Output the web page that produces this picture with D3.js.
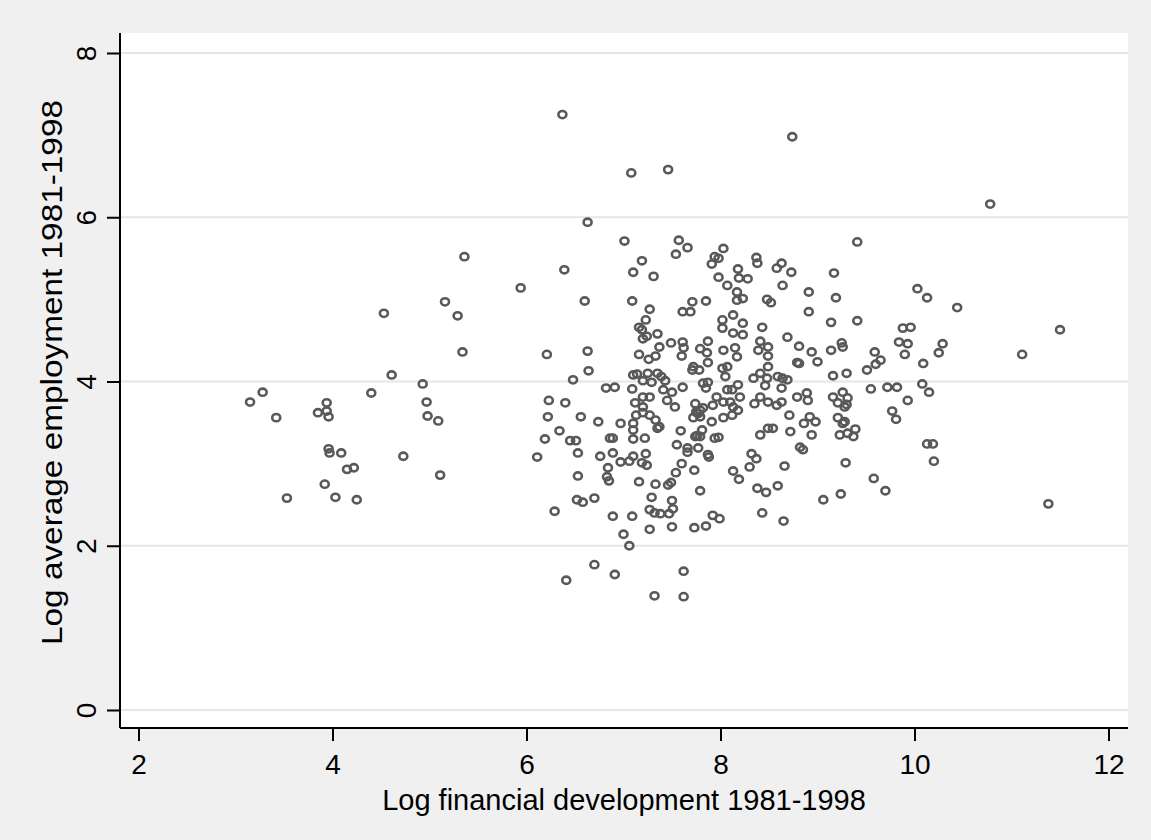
<!DOCTYPE html>
<html>
<head>
<meta charset="utf-8">
<script src="https://cdn.jsdelivr.net/npm/d3@7"></script>
<style>
  body { margin: 0; background: #f0f0f0; }
  text { font-family: "Liberation Sans", Arial, sans-serif; fill: #000; }
</style>
</head>
<body>
<script>
// log financial development (x) and log average employment (y)
const finDev = [
  3.15,3.28,3.42,3.53,3.85,3.94,3.94,3.96,3.96,3.97,4.09,3.92,4.03,4.15,4.22,4.25,4.40,4.61,4.73,4.93,
  4.97,4.98,5.09,5.11,4.53,5.16,5.29,5.34,5.36,5.94,
  6.37,6.63,6.39,6.60,6.21,6.63,6.64,6.48,6.82,6.23,6.40,6.22,6.56,6.74,6.34,6.19,6.45,6.51,6.53,6.11,
  6.76,6.86,6.53,6.83,6.52,6.58,6.70,6.29,6.70,6.41,
  6.89,7.09,7.00,7.06,6.91,7.62,7.32,7.62,7.27,7.50,7.73,7.85,7.92,7.99,8.43,8.65,7.27,7.32,7.38,7.47,
  7.51,7.50,7.29,7.33,7.46,7.49,7.54,7.60,7.73,7.79,7.16,6.84,6.85,6.97,7.06,7.10,7.19,7.24,7.23,6.89,
  7.88,8.13,8.19,8.30,8.37,8.32,8.38,8.47,8.59,8.66,9.06,9.24,9.29,8.85,7.66,
  7.10,7.19,7.31,7.54,7.09,7.27,7.23,7.16,7.19,7.24,7.20,7.35,7.37,7.49,7.33,7.26,7.16,7.10,7.14,7.25,
  7.35,7.39,7.20,7.29,7.43,6.91,7.09,7.20,7.27,7.41,7.50,7.61,7.45,7.53,7.12,7.20,7.13,7.20,7.27,7.33,
  7.37,6.97,7.10,7.10,7.59,6.89,7.10,7.22,7.35,7.61,7.62,7.60,7.79,7.87,7.86,7.87,7.72,7.71,7.78,7.82,
  7.87,7.85,7.74,7.76,7.79,7.82,7.79,7.72,7.92,7.96,8.03,8.07,8.12,8.18,8.20,8.10,8.13,8.18,8.12,8.03,
  7.91,7.81,7.98,7.94,7.76,7.55,8.02,8.07,8.05,8.03,8.15,8.17,8.02,8.02,8.13,8.23,8.23,8.13,8.17,8.23,
  8.17,8.07,7.98,7.91,7.98,8.18,8.28,8.19,8.38,8.58,8.63,8.73,8.64,8.48,8.52,8.91,8.91,9.17,9.19,9.14,
  8.43,8.41,8.39,8.49,8.49,8.49,8.69,8.81,8.79,8.81,8.94,9.00,9.14,9.25,9.26,9.16,9.30,8.34,8.41,8.48,
  8.59,8.64,8.69,8.63,8.46,8.41,8.49,8.35,8.58,8.63,8.79,8.89,8.90,9.16,9.21,9.28,8.71,8.86,8.92,8.98,
  9.21,9.26,8.72,8.49,8.54,8.41,8.94,9.23,8.82,
  10.78,9.41,10.03,10.13,10.44,9.41,9.88,9.96,9.84,9.93,9.90,10.29,10.25,11.11,9.59,9.65,9.60,9.51,10.09,9.55,
  9.72,9.82,10.08,10.15,9.93,9.77,9.81,10.13,10.19,10.20,9.58,9.70,9.26,9.31,9.30,9.28,9.39,9.37,9.31,11.50,
  11.38,
  7.08,7.46,8.74,7.01,7.57,7.66,8.03,7.94,8.37,
  7.74,7.79,7.66,7.77,7.87,7.75,7.77,7.61,7.69,7.71,7.85
];
const logEmp = [
  3.75,3.87,3.56,2.58,3.62,3.74,3.64,3.57,3.18,3.13,3.13,2.75,2.59,2.93,2.95,2.56,3.86,4.08,3.09,3.97,
  3.75,3.58,3.52,2.86,4.83,4.97,4.80,4.36,5.52,5.14,
  7.25,5.94,5.36,4.98,4.33,4.37,4.13,4.02,3.92,3.77,3.74,3.57,3.57,3.51,3.40,3.30,3.28,3.28,3.13,3.08,
  3.09,3.31,2.85,2.84,2.56,2.53,2.58,2.42,1.77,1.58,
  2.36,2.36,2.14,2.00,1.65,1.69,1.39,1.38,2.20,2.23,2.22,2.24,2.37,2.33,2.40,2.30,2.44,2.40,2.39,2.39,
  2.45,2.55,2.59,2.75,2.74,2.77,2.89,3.00,2.92,2.67,2.78,2.95,2.79,3.02,3.03,3.09,3.01,2.98,3.12,3.13,
  3.08,2.91,2.81,2.96,3.06,3.12,2.70,2.65,2.73,2.97,2.56,2.63,3.01,3.17,3.14,
  5.33,5.47,5.28,5.55,4.98,4.88,4.75,4.66,4.63,4.55,4.52,4.58,4.42,4.47,4.31,4.27,4.33,4.08,4.09,4.10,
  4.10,4.06,4.01,3.99,4.01,3.93,3.91,3.81,3.81,3.90,3.87,3.93,3.77,3.69,3.74,3.69,3.59,3.62,3.59,3.53,
  3.45,3.49,3.49,3.41,3.40,3.31,3.30,3.31,3.43,4.48,4.41,4.31,4.40,4.49,4.35,4.23,4.18,4.14,4.14,3.98,
  3.99,3.92,3.73,3.62,3.65,3.68,3.57,3.56,3.71,3.81,3.75,3.90,3.90,3.96,3.81,3.75,3.69,3.65,3.59,3.56,
  3.51,3.41,3.32,3.31,3.34,3.23,4.16,4.18,4.06,4.38,4.41,4.30,4.75,4.65,4.59,4.71,4.57,4.81,4.99,5.01,
  5.09,5.17,5.27,5.43,5.50,5.37,5.25,5.26,5.44,5.38,5.44,5.33,5.17,5.00,4.96,5.09,4.85,5.32,5.02,4.72,
  4.66,4.49,4.38,4.42,4.31,4.18,4.54,4.43,4.23,4.22,4.36,4.24,4.38,4.47,4.42,4.07,4.10,4.04,4.10,4.04,
  4.06,4.04,4.02,3.92,3.95,3.81,3.75,3.73,3.71,3.75,3.81,3.86,3.77,3.81,3.74,3.69,3.59,3.49,3.57,3.51,
  3.56,3.49,3.39,3.43,3.43,3.35,3.35,3.35,3.20,
  6.16,5.70,5.13,5.02,4.90,4.74,4.65,4.66,4.48,4.46,4.33,4.46,4.35,4.33,4.36,4.26,4.21,4.14,4.22,3.91,
  3.93,3.93,3.97,3.87,3.77,3.64,3.54,3.24,3.24,3.03,2.82,2.67,3.87,3.80,3.72,3.51,3.42,3.33,3.37,4.63,
  2.51,
  6.54,6.58,6.98,5.71,5.72,5.63,5.62,5.52,5.51,
  3.33,3.33,3.19,3.19,3.11,3.63,3.61,4.85,4.85,4.97,4.98
];
const xTicks = [2, 4, 6, 8, 10, 12];
const yTicks = [0, 2, 4, 6, 8];
const xTitle = "Log financial development 1981-1998";
const yTitle = "Log average employment 1981-1998";

const W = 1151, H = 840;
const plot = {left: 120, right: 1128, top: 33, bottom: 728};

const svg = d3.select("body").append("svg")
  .attr("width", W).attr("height", H)
  .style("display", "block");

svg.append("rect").attr("width", W).attr("height", H).attr("fill", "#f0f0f0");
svg.append("rect")
  .attr("x", plot.left).attr("y", plot.top)
  .attr("width", plot.right - plot.left).attr("height", plot.bottom - plot.top)
  .attr("fill", "#fff");

const x = d3.scaleLinear().domain([2, 12]).range([138.5, 1108.5]);
const y = d3.scaleLinear().domain([0, 8]).range([710, 53]);

// grid
svg.append("g").selectAll("line").data(yTicks).enter().append("line")
  .attr("x1", plot.left).attr("x2", plot.right)
  .attr("y1", d => y(d)).attr("y2", d => y(d))
  .attr("stroke", "#e6e6e6").attr("stroke-width", 1.8);

// points - hollow rings, a little wider than tall like the original
const pts = finDev.map((d, i) => [d, logEmp[i]]);
svg.append("g").selectAll("ellipse").data(pts).enter().append("ellipse")
  .attr("cx", d => x(d[0])).attr("cy", d => y(d[1]))
  .attr("rx", 4.0).attr("ry", 3.6)
  .attr("fill", "none")
  .attr("stroke", "#595959")
  .attr("stroke-width", 2.6);

// x axis
const xAxis = svg.append("g").attr("transform", `translate(0,${plot.bottom})`)
  .call(d3.axisBottom(x).tickValues(xTicks).tickSize(13).tickPadding(13).tickFormat(d3.format("d")));
xAxis.select(".domain").attr("d", `M${plot.left},0H${plot.right}`).attr("stroke-width", 2);
xAxis.selectAll(".tick line").attr("stroke-width", 2);
xAxis.selectAll("text").style("font-size", "28px").attr("fill", "#000");

// y axis
const yAxis = svg.append("g").attr("transform", `translate(${plot.left},0)`)
  .call(d3.axisLeft(y).tickValues(yTicks).tickSize(13).tickPadding(12).tickFormat(d3.format("d")));
yAxis.select(".domain").attr("d", `M0,${plot.top}V${plot.bottom}`).attr("stroke-width", 2);
yAxis.selectAll(".tick line").attr("stroke-width", 2);
yAxis.selectAll("text")
  .style("font-size", "28px").attr("fill", "#000")
  .attr("x", 0).attr("dy", 0)
  .attr("text-anchor", "middle")
  .attr("transform", "translate(-24,0) rotate(-90)");

svg.selectAll(".domain").attr("stroke", "#000");
svg.selectAll(".tick line").attr("stroke", "#000");

// titles
svg.append("text")
  .attr("x", (plot.left + plot.right) / 2).attr("y", 810)
  .attr("text-anchor", "middle").style("font-size", "29px")
  .text(xTitle);
svg.append("text")
  .attr("transform", `translate(62,${(plot.top + plot.bottom) / 2 - 8}) rotate(-90)`)
  .attr("text-anchor", "middle").style("font-size", "30px")
  .attr("textLength", 545).attr("lengthAdjust", "spacingAndGlyphs")
  .text(yTitle);
</script>
</body>
</html>
